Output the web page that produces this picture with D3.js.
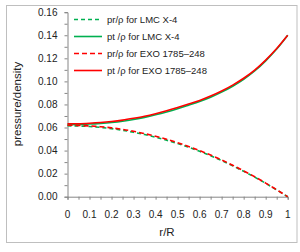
<!DOCTYPE html>
<html>
<head>
<meta charset="utf-8">
<script src="https://cdn.jsdelivr.net/npm/d3@7"></script>
<style>
body{margin:0;background:#fff;}
svg{display:block;font-family:"Liberation Sans",Arial,sans-serif;}
</style>
</head>
<body>
<svg id="chart" width="300" height="252"></svg>
<script>
// values
var rR=[0,0.05,0.1,0.15,0.2,0.25,0.3,0.35,0.4,0.45,0.5,0.55,0.6,0.65,0.7,0.75,0.8,0.85,0.9,0.95,1];
var prLMC=[0.0615,0.0613,0.0609,0.0601,0.0590,0.0576,0.0559,0.0539,0.0516,0.0490,0.0461,0.0429,0.0394,0.0355,0.0313,0.0268,0.0220,0.0170,0.0116,0.0059,0.0000];
var ptLMC=[0.0625,0.0626,0.0630,0.0636,0.0644,0.0655,0.0670,0.0688,0.0710,0.0735,0.0763,0.0794,0.0826,0.0863,0.0907,0.0958,0.1018,0.1090,0.1178,0.1280,0.1400];
var prEXO=[0.0620,0.0618,0.0614,0.0607,0.0597,0.0584,0.0567,0.0547,0.0524,0.0498,0.0468,0.0436,0.0400,0.0361,0.0319,0.0273,0.0224,0.0173,0.0118,0.0060,0.0000];
var ptEXO=[0.0632,0.0633,0.0637,0.0643,0.0652,0.0664,0.0680,0.0698,0.0720,0.0745,0.0773,0.0803,0.0835,0.0873,0.0917,0.0968,0.1027,0.1098,0.1185,0.1285,0.1400];
var xTicks=[0,0.1,0.2,0.3,0.4,0.5,0.6,0.7,0.8,0.9,1];
var yTicks=[0,0.02,0.04,0.06,0.08,0.1,0.12,0.14,0.16];
var seriesNames=["pr/\u03c1  for LMC X-4","pt /\u03c1  for LMC X-4","pr/\u03c1 for EXO 1785\u2013248","pt /\u03c1 for EXO 1785\u2013248"];

var green='#00b050', red='#ff0000';
var series=[
  {name:seriesNames[0],vals:prLMC,color:green,dash:'4,3'},
  {name:seriesNames[1],vals:ptLMC,color:green,dash:null},
  {name:seriesNames[2],vals:prEXO,color:red,dash:'5,3'},
  {name:seriesNames[3],vals:ptEXO,color:red,dash:null}
];

var svg=d3.select('#chart');
// outer frame
svg.append('rect').attr('x',6.5).attr('y',5.5).attr('width',290.5).attr('height',237)
  .attr('fill','#fff').attr('stroke','#bfbfbf').attr('stroke-width',1);

var x=d3.scaleLinear().domain([0,1]).range([67.5,287.7]);
var y=d3.scaleLinear().domain([0,0.16]).range([196.7,12.2]);

// minor ticks
var xa=d3.axisBottom(x).tickValues(d3.range(0,1.001,0.05)).tickSize(3).tickFormat('');
var ya=d3.axisLeft(y).tickValues(d3.range(0,0.1601,0.01)).tickSize(3).tickFormat('');
var gx=svg.append('g').attr('transform','translate(0,'+y(0)+')').call(xa);
var gy=svg.append('g').attr('transform','translate('+x(0)+',0)').call(ya);
[gx,gy].forEach(function(g){
  g.select('.domain').attr('stroke','#868686');
  g.selectAll('line').attr('stroke','#868686');
});

// tick labels
svg.append('g').selectAll('text').data(xTicks).join('text')
  .attr('x',function(d){return x(d);}).attr('y',217.5)
  .attr('text-anchor','middle').attr('font-size',10).attr('fill','#222')
  .text(function(d){return d===0||d===1?String(d):d3.format('.1f')(d);});
svg.append('g').selectAll('text').data(yTicks).join('text')
  .attr('x',57.5).attr('y',function(d){return y(d)+3.5;})
  .attr('text-anchor','end').attr('font-size',10).attr('fill','#222')
  .text(function(d){return d3.format('.2f')(d);});

// axis titles
svg.append('text').attr('x',167).attr('y',236).attr('text-anchor','middle')
  .attr('font-size',11.5).attr('fill','#222').text('r/R');
svg.append('text').attr('transform','translate(21,104) rotate(-90)').attr('text-anchor','middle')
  .attr('font-size',11.5).attr('fill','#222').text('pressure/density');

// curves
var line=d3.line()
  .x(function(d,i){return x(rR[i]);})
  .y(function(d){return y(d);})
  .curve(d3.curveMonotoneX);
series.forEach(function(s){
  svg.append('path').datum(s.vals).attr('d',line)
    .attr('fill','none').attr('stroke',s.color).attr('stroke-width',1.6)
    .attr('stroke-dasharray',s.dash);
});

// legend
var leg=svg.append('g').selectAll('g').data(series).join('g')
  .attr('transform',function(d,i){return 'translate(74,'+(19.5+i*17)+')';});
leg.append('line').attr('x1',0).attr('x2',28).attr('y1',0).attr('y2',0)
  .attr('stroke',function(d){return d.color;}).attr('stroke-width',1.6)
  .attr('stroke-dasharray',function(d){return d.dash;});
leg.append('text').attr('x',33).attr('y',3.5).attr('font-size',9.5).attr('fill','#222')
  .text(function(d){return d.name;});
</script>
</body>
</html>
